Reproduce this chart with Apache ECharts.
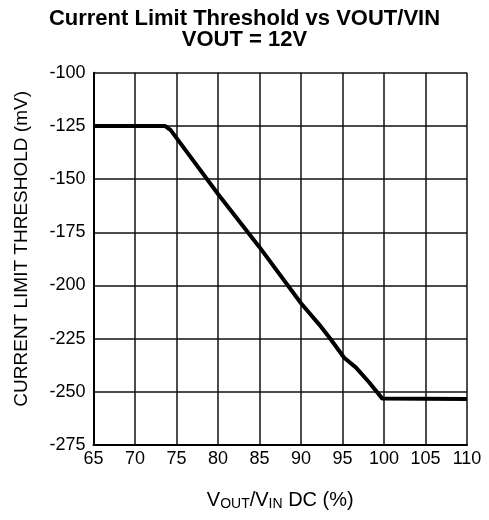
<!DOCTYPE html>
<html>
<head>
<meta charset="utf-8">
<script src="https://cdn.jsdelivr.net/npm/echarts@6/dist/echarts.min.js"></script>
<style>
  html, body { margin: 0; padding: 0; background: #fff; }
  #chart { width: 489px; height: 520px; }
</style>
</head>
<body>
<div id="chart"></div>
<script>
// VOUT/VIN duty (%) vs current limit threshold (mV)
const dutyPct = [65, 73.6, 74.3, 80, 85, 90, 92.2, 93.6, 95.2, 96.6, 98.2, 99.8, 110];
const thresholdMv = [-125, -125, -127, -157, -182, -208.4, -218.4, -225.4, -234, -238.5, -245.5, -253.2, -253.4];

const titleText = 'Current Limit Threshold vs VOUT/VIN\nVOUT = 12V';
const yName = 'CURRENT LIMIT THRESHOLD (mV)';

const font = 'Liberation Sans';

let myChart = echarts.init(document.getElementById('chart'));
let option = {
  animation: false,
  title: {
    text: titleText,
    left: 'center',
    top: 3,
    textStyle: {
      fontFamily: font,
      fontWeight: 'bold',
      fontSize: 22,
      lineHeight: 21,
      color: '#000'
    }
  },
  grid: {
    left: 93.5,
    right: 22,
    top: 72.7,
    bottom: 75
  },
  xAxis: {
    type: 'value',
    min: 65,
    max: 110,
    interval: 5,
    name: '{v|V}{s|OUT}{v|/V}{s|IN}{v| DC (%)}',
    nameLocation: 'middle',
    nameGap: 45,
    nameTextStyle: {
      rich: {
        v: { fontFamily: font, fontSize: 20, color: '#000' },
        s: { fontFamily: font, fontSize: 14, color: '#000', verticalAlign: 'bottom', padding: [7, 0, 0, 0] }
      }
    },
    axisLine: { show: true, lineStyle: { color: '#000', width: 2 } },
    axisTick: { show: false },
    axisLabel: { color: '#000', fontFamily: font, fontSize: 18, margin: 5 },
    splitLine: { show: true, lineStyle: { color: '#111', width: 1.5 } }
  },
  yAxis: {
    type: 'value',
    min: -275,
    max: -100,
    interval: 25,
    name: yName,
    nameLocation: 'middle',
    nameGap: 62,
    nameTextStyle: { color: '#000', fontFamily: font, fontSize: 19, padding: [0, 0, 0, 20] },
    axisLine: { show: true, lineStyle: { color: '#000', width: 2 } },
    axisTick: { show: false },
    axisLabel: { color: '#000', fontFamily: font, fontSize: 18, margin: 8 },
    splitLine: { show: true, lineStyle: { color: '#111', width: 1.5 } }
  },
  series: [
    {
      type: 'line',
      data: dutyPct.map((d, i) => [d, thresholdMv[i]]),
      showSymbol: false,
      lineStyle: { color: '#000', width: 4 },
      z: 5
    }
  ]
};
myChart.setOption(option);
</script>
</body>
</html>
